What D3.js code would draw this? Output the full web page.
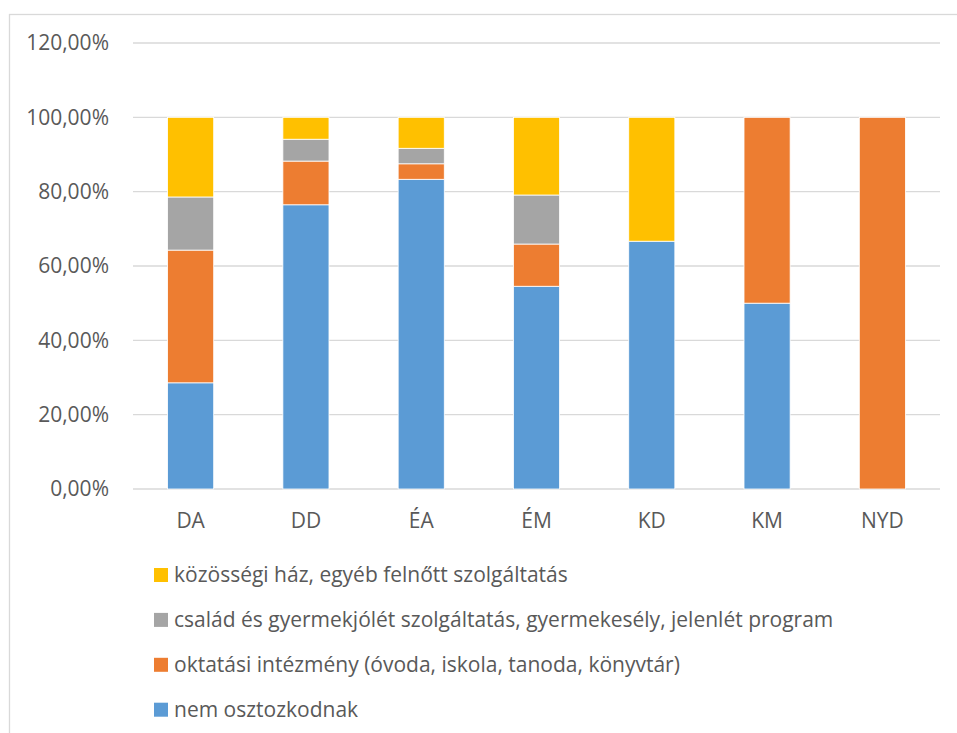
<!DOCTYPE html>
<html><head><meta charset="utf-8">
<script src="https://cdn.jsdelivr.net/npm/d3@7"></script>
<style>body{margin:0;background:#fff}svg{display:block}text{font-family:"Open Sans",sans-serif;fill:#595959}</style>
</head><body><svg id="c" width="957" height="733"></svg>
<script>
const categories = ["DA","DD","ÉA","ÉM","KD","KM","NYD"];
const seriesNames = ["nem osztozkodnak","oktatási intézmény (óvoda, iskola, tanoda, könyvtár)","család és gyermekjólét szolgáltatás, gyermekesély, jelenlét program","közösségi ház, egyéb felnőtt szolgáltatás"];
const nemOsztozkodnak = [28.57, 76.47, 83.33, 54.55, 66.67, 50.00, 0];
const oktatasi = [35.71, 11.76, 4.17, 11.36, 0, 50.00, 100];
const csalad = [14.29, 5.88, 4.17, 13.19, 0, 0, 0];
const kozossegi = [21.43, 5.89, 8.33, 20.90, 33.33, 0, 0];
const colors = ["#5B9BD5","#ED7D31","#A5A5A5","#FFC000"];
const yTicks = [0,20,40,60,80,100,120];

const svg = d3.select("#c");
svg.append("rect").attr("x",9.5).attr("y",14.5).attr("width",1000).attr("height",1000)
  .attr("fill","none").attr("stroke","#D9D9D9").attr("stroke-width",1.3);

const x = d3.scaleBand().domain(categories).range([133,940]).paddingInner(0.6).paddingOuter(0.3);
const y = d3.scaleLinear().domain([0,120]).range([489,43]);

const g = svg.append("g");
g.selectAll("line.grid").data(yTicks).join("line").attr("class","grid")
  .attr("x1",133).attr("x2",940).attr("y1",d=>y(d)).attr("y2",d=>y(d))
  .attr("stroke","#D9D9D9").attr("stroke-width",1.3);

const fmt = v => v.toFixed(2).replace(".",",")+"%";
g.selectAll("text.yt").data(yTicks).join("text").attr("class","yt")
  .attr("x",109).attr("y",d=>y(d)).attr("dy","0.35em").attr("text-anchor","end")
  .attr("font-size",21).text(fmt);

const rows = categories.map((c,i)=>({cat:c, nemOsztozkodnak:nemOsztozkodnak[i], oktatasi:oktatasi[i], csalad:csalad[i], kozossegi:kozossegi[i]}));
const keys = ["nemOsztozkodnak","oktatasi","csalad","kozossegi"];
const stacked = d3.stack().keys(keys)(rows);
stacked.forEach((s,si)=>{
  g.selectAll(null).data(s.filter(d=>d[1]-d[0]>0)).join("rect")
    .attr("x",d=>x(d.data.cat)).attr("width",x.bandwidth())
    .attr("y",d=>y(d[1])).attr("height",d=>y(d[0])-y(d[1]))
    .attr("fill",colors[si]).attr("stroke","#fff").attr("stroke-width",0.8);
});

g.selectAll("text.xt").data(categories).join("text").attr("class","xt")
  .attr("x",d=>x(d)+x.bandwidth()/2).attr("y",521).attr("dy","0.35em")
  .attr("text-anchor","middle").attr("font-size",21).text(d=>d);

const legendOrder = [3,2,1,0];
const leg = svg.append("g");
legendOrder.forEach((si,i)=>{
  const cy = 575 + i*44.9;
  leg.append("rect").attr("x",154).attr("y",cy-7).attr("width",14).attr("height",14).attr("fill",colors[si]);
  leg.append("text").attr("x",174).attr("y",cy).attr("dy","0.35em").attr("font-size",21).text(seriesNames[si]);
});
</script></body></html>
